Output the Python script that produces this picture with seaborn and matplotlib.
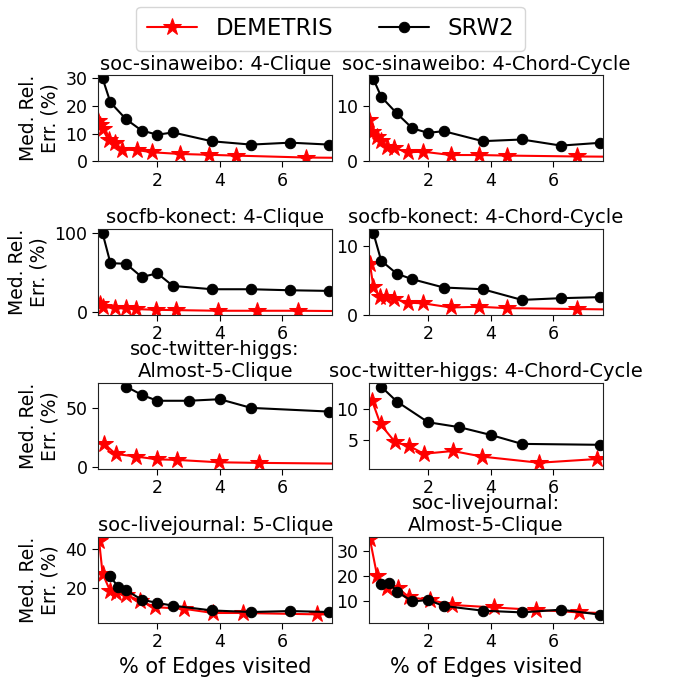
import matplotlib
matplotlib.use('Agg')
import matplotlib.pyplot as plt
import seaborn as sns
import pandas as pd

sns.set_style("ticks")
plt.rcParams['font.family'] = ['DejaVu Sans']
plt.rcParams.update({'text.color': 'black', 'axes.labelcolor': 'black',
                     'xtick.color': 'black', 'ytick.color': 'black'})

titles = [
    "soc-sinaweibo: 4-Clique", "soc-sinaweibo: 4-Chord-Cycle",
    "socfb-konect: 4-Clique", "socfb-konect: 4-Chord-Cycle",
    "soc-twitter-higgs:\nAlmost-5-Clique", "soc-twitter-higgs: 4-Chord-Cycle",
    "soc-livejournal: 5-Clique", "soc-livejournal:\nAlmost-5-Clique",
]

# DEMETRIS (% of edges visited, median relative error %)
dem_x = [
    [0.1, 0.16, 0.26, 0.44, 0.66, 0.86, 1.36, 1.84, 2.73, 3.64, 4.53, 6.77, 9.0],
    [0.1, 0.2, 0.37, 0.48, 0.69, 0.9, 1.36, 1.84, 2.73, 3.64, 4.53, 6.77, 9.0],
    [0.16, 0.27, 0.64, 0.99, 1.33, 1.97, 2.6, 3.93, 5.2, 6.5, 9.0],
    [0.14, 0.25, 0.46, 0.64, 0.9, 1.36, 1.84, 2.73, 3.64, 4.53, 6.77, 9.0],
    [0.3, 0.67, 1.33, 1.99, 2.63, 3.96, 5.24, 9.0],
    [0.21, 0.48, 0.95, 1.4, 1.86, 2.79, 3.72, 5.55, 7.39, 9.0],
    [0.14, 0.25, 0.49, 0.68, 0.99, 1.45, 1.92, 2.84, 3.78, 4.74, 7.1, 9.0],
    [0.14, 0.37, 0.69, 1.04, 1.4, 2.05, 2.77, 4.1, 5.46, 6.84, 9.0],
]
dem_y = [
    [14.5, 13.2, 11.6, 7.5, 6.4, 4.2, 4.0, 3.2, 2.6, 2.3, 2.0, 1.3, 1.1],
    [7.4, 5.2, 4.3, 3.7, 2.6, 2.4, 1.6, 1.7, 1.1, 1.1, 1.0, 0.84, 0.75],
    [10.5, 7.0, 5.4, 5.0, 4.2, 3.3, 2.9, 2.1, 2.1, 2.1, 1.4],
    [7.4, 4.1, 2.6, 2.6, 2.4, 1.8, 1.7, 1.1, 1.2, 1.0, 0.87, 0.75],
    [19.7, 11.2, 9.0, 6.7, 6.2, 4.2, 3.7, 2.8],
    [11.3, 7.5, 4.6, 4.0, 2.75, 3.2, 2.3, 1.3, 1.9, 1.9],
    [44.0, 27.3, 18.5, 17.1, 16.4, 13.4, 10.0, 9.2, 7.0, 7.0, 6.3, 6.2],
    [34.7, 20.0, 15.1, 15.1, 11.3, 10.4, 8.3, 7.3, 6.3, 5.3, 4.6],
]

# SRW2
srw_x = [
    [0.25, 0.5, 1, 1.5, 2, 2.5, 3.75, 5, 6.25, 7.5],
    [0.25, 0.5, 1, 1.5, 2, 2.5, 3.75, 5, 6.25, 7.5],
    [0.25, 0.5, 1, 1.5, 2, 2.5, 3.75, 5, 6.25, 7.5],
    [0.25, 0.5, 1, 1.5, 2.5, 3.75, 5, 6.25, 7.5],
    [1, 1.5, 2, 3, 4, 5, 7.5],
    [0.5, 1, 2, 3, 4, 5, 7.5],
    [0.5, 0.75, 1, 1.5, 2, 2.5, 3.75, 5, 6.25, 7.5],
    [0.5, 0.75, 1, 1.5, 2, 2.5, 3.75, 5, 6.25, 7.5],
]
srw_y = [
    [30.0, 21.3, 15.2, 11.1, 9.6, 10.4, 7.2, 6.0, 6.7, 6.0],
    [14.8, 11.6, 8.6, 5.9, 5.1, 5.4, 3.6, 3.9, 2.8, 3.3],
    [100.0, 62.3, 61.5, 44.8, 49.4, 33.5, 29.3, 29.3, 28.0, 27.2],
    [11.9, 7.9, 6.0, 5.2, 4.0, 3.75, 2.2, 2.45, 2.6],
    [68.0, 61.0, 56.0, 56.0, 57.3, 50.0, 46.9],
    [13.6, 11.2, 7.85, 7.05, 5.8, 4.35, 4.2],
    [26.1, 20.2, 18.8, 13.9, 12.2, 10.8, 8.3, 7.5, 8.0, 7.5],
    [16.7, 17.3, 13.7, 9.7, 10.3, 7.9, 6.0, 5.3, 6.4, 4.4],
]

y_ticks = [[0, 10, 20, 30], [0, 10], [0, 100], [0, 10], [0, 50], [5, 10], [20, 40], [10, 20, 30]]
y_lims = [(0, 31.2), (0, 15.5), (-3.3, 105.4), (0, 12.5), (-1.4, 71), (0.3, 14.2), (1.9, 46.4), (1.1, 35.7)]

fig, axes = plt.subplots(4, 2, figsize=(6.8, 6.77), dpi=100)
plt.subplots_adjust(left=0.144, right=0.887, top=0.889, bottom=0.080, hspace=0.79, wspace=0.155)

for i, ax in enumerate(axes.flat):
    dem = pd.DataFrame({'x': dem_x[i], 'y': dem_y[i]})
    srw = pd.DataFrame({'x': srw_x[i], 'y': srw_y[i]})
    sns.lineplot(data=dem, x='x', y='y', ax=ax, color='red', marker='*', markersize=13,
                 markeredgecolor='red', linewidth=1.5, sort=False, estimator=None, label='DEMETRIS')
    sns.lineplot(data=srw, x='x', y='y', ax=ax, color='black', marker='o', markersize=7.5,
                 markeredgecolor='black', linewidth=1.5, sort=False, estimator=None, label='SRW2')
    ax.set_xlim(0.1, 7.6)
    ax.set_ylim(*y_lims[i])
    ax.set_xticks([2, 4, 6])
    ax.set_yticks(y_ticks[i])
    ax.tick_params(labelsize=12.5, length=4)
    ax.set_title(titles[i], fontsize=14, pad=4)
    ax.set_xlabel("% of Edges visited" if i >= 6 else "", fontsize=15)
    ax.set_ylabel("Med. Rel.\nErr. (%)" if i % 2 == 0 else "", fontsize=13.5)
    for s in ax.spines.values():
        s.set_visible(True)
        s.set_color('#222222')
    ax.get_legend().remove()

handles, labels = axes[0, 0].get_legend_handles_labels()
fig.legend(handles, labels, loc='upper center', bbox_to_anchor=(0.486, 1.0), ncol=2,
           fontsize=16.5, columnspacing=2.0, handlelength=2.2, borderpad=0.45,
           borderaxespad=0.3)

plt.savefig("out.png", dpi=100)
